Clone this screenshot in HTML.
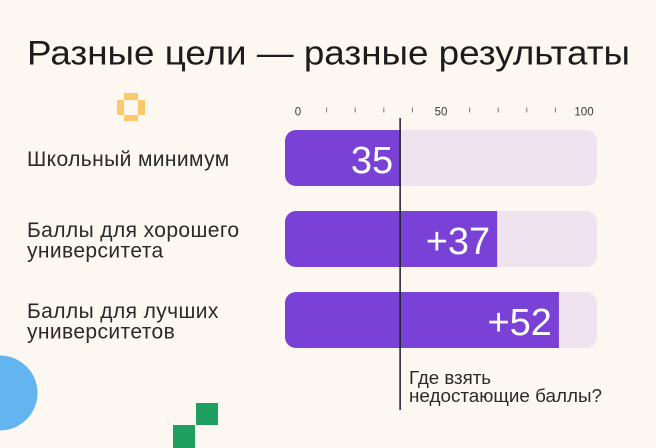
<!DOCTYPE html>
<html lang="ru">
<head>
<meta charset="utf-8">
<title>Разные цели — разные результаты</title>
<style>
html,body{margin:0;padding:0;background:#fcf7f1;}
svg{display:block;font-family:"Liberation Sans","Noto Sans CJK SC",sans-serif;}
</style>
</head>
<body>
<svg id="chart" xmlns="http://www.w3.org/2000/svg" width="656" height="448" viewBox="0 0 656 448">
  <rect width="656" height="448" fill="#fcf7f1"/>
  <text x="27" y="64.5" font-size="34" fill="#1c1c1c" textLength="603" lengthAdjust="spacingAndGlyphs">Разные цели — разные результаты</text>

  <g fill="#ffc76b">
    <rect x="124" y="93" width="14" height="7"/>
    <rect x="117" y="100" width="7" height="15"/>
    <rect x="138" y="100" width="7" height="15"/>
    <rect x="124" y="115" width="14" height="6"/>
  </g>
  <circle cx="0" cy="393" r="37.5" fill="#62b5ef"/>
  <g fill="#20a060">
    <rect x="196" y="403" width="22" height="22"/>
    <rect x="173" y="425" width="22" height="23"/>
  </g>

  <defs id="clips"></defs>
  <g id="axis"></g>
  <g id="rows"></g>
  <g id="threshold"></g>

  <text font-size="18" fill="#2a2a2a">
    <tspan x="409" y="384" textLength="82" lengthAdjust="spacingAndGlyphs">Где взять</tspan>
    <tspan x="409" y="402" textLength="193" lengthAdjust="spacingAndGlyphs">недостающие баллы?</tspan>
  </text>
</svg>
<script>
var categories = [["Школьный минимум"], ["Баллы для хорошего", "университета"], ["Баллы для лучших", "университетов"]];
var barValues = [36.9, 68, 87.8];
var valueLabels = ["35", "+37", "+52"];
var tickValues = [0, 10, 20, 30, 40, 50, 60, 70, 80, 90, 100];
var tickLabelValues = [0, 50, 100];
var thresholdValue = 36.9;

var NS = "http://www.w3.org/2000/svg";
function xBar(v) { return 285 + v * 3.12; }
function xTick(v) { return 298 + v * 2.86; }
function rowTop(i) { return 130 + i * 81; }
function make(tag, attrs, parent, txt) {
  var el = document.createElementNS(NS, tag);
  for (var k in attrs) el.setAttribute(k, attrs[k]);
  if (txt !== undefined) el.textContent = txt;
  parent.appendChild(el);
  return el;
}

var axis = document.getElementById("axis");
tickValues.forEach(function (v) {
  if (tickLabelValues.indexOf(v) >= 0) {
    var lab = make("text", {x: xTick(v), y: 115.5, "font-size": 11.5, "text-anchor": "middle", fill: "#3a3a3a"}, axis, String(v));
    
    
  } else {
    var t = make("line", {x1: xTick(v), x2: xTick(v), y1: 107.5, y2: 112.5, stroke: "#777", "stroke-width": 1}, axis);
    
    
  }
});

var clips = document.getElementById("clips");
var rows = document.getElementById("rows");
barValues.forEach(function (v, i) {
  var y = rowTop(i);
  var cp = make("clipPath", {id: "clip" + i}, clips);
  make("rect", {x: xBar(0), y: y, width: xBar(100) - xBar(0), height: 56, rx: 11}, cp);

  var track = make("rect", {x: xBar(0), y: y, width: xBar(100) - xBar(0), height: 56, rx: 11, fill: "#efe3f0"}, rows);
  
  

  var bar = make("rect", {x: xBar(0), y: y, width: xBar(v) - xBar(0), height: 56, fill: "#7a41d6", "clip-path": "url(#clip" + i + ")"}, rows);
  
  

  var val = make("text", {x: xBar(v) - 7, y: y + 43, "font-size": 38, "text-anchor": "end", fill: "#ffffff"}, rows, valueLabels[i]);
  
  

  var lines = categories[i];
  var y0 = lines.length === 1 ? y + 36 : y + 26;
  lines.forEach(function (line, j) {
    var c = make("text", {x: 27, y: y0 + j * 20.5, "font-size": 21, "letter-spacing": 0.4, fill: "#2a2a2a"}, rows, line);
    
    
  });
});

var th = document.getElementById("threshold");
var tl = make("line", {x1: xBar(thresholdValue), x2: xBar(thresholdValue), y1: 118, y2: 410, stroke: "#1c1c2a", "stroke-width": 1.5}, th);


</script>
</body>
</html>
